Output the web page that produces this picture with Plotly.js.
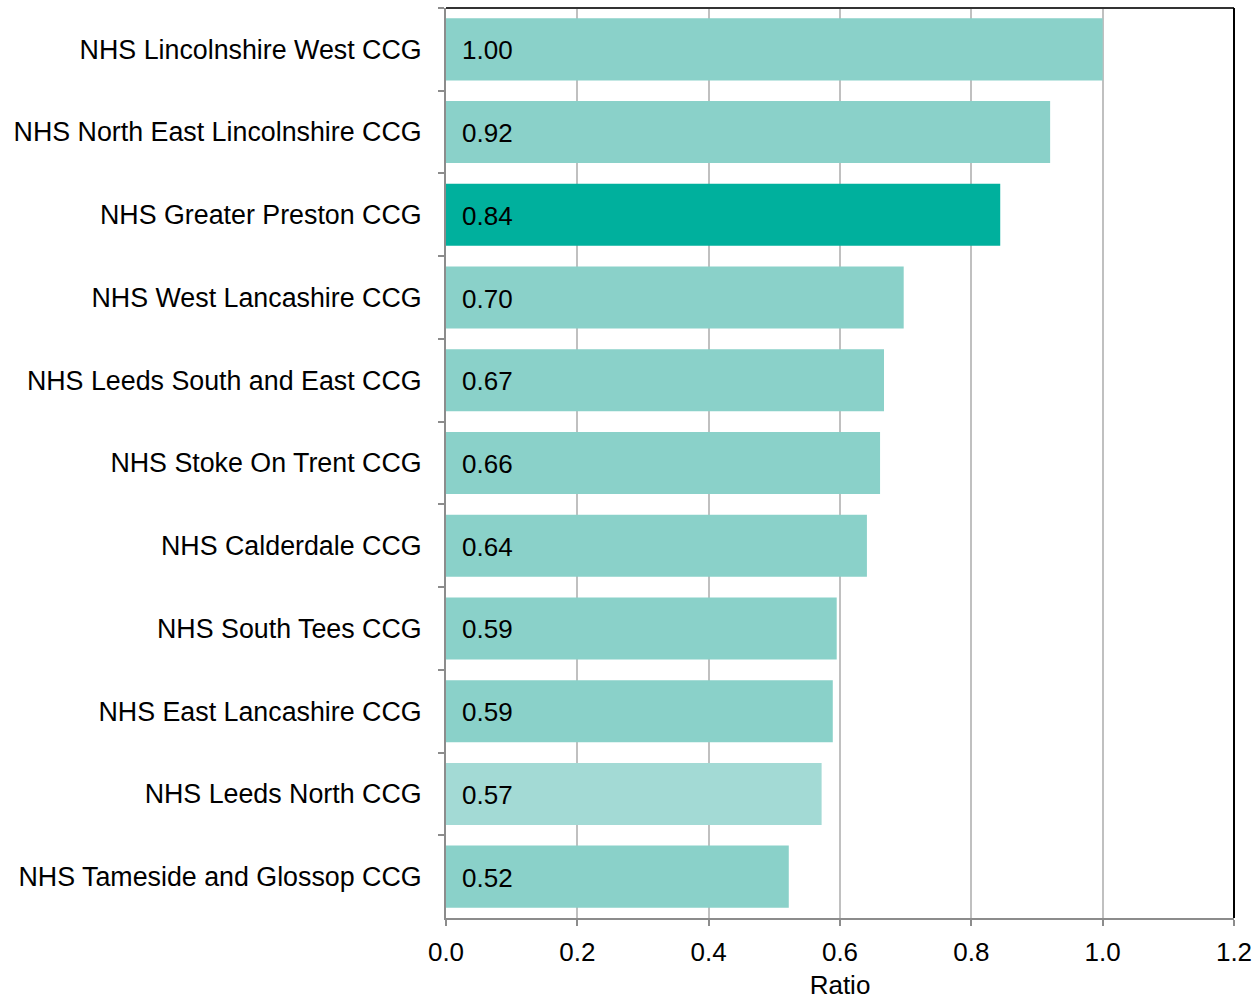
<!DOCTYPE html>
<html>
<head>
<meta charset="utf-8">
<script src="https://cdn.plot.ly/plotly-3.0.1.min.js"></script>
<style>body{margin:0;padding:0;background:#fff;}#chart{width:1256px;height:1000px;}</style>
</head>
<body>
<div id="chart"></div>
<script>
var categories = [
  "NHS Lincolnshire West CCG",
  "NHS North East Lincolnshire CCG",
  "NHS Greater Preston CCG",
  "NHS West Lancashire CCG",
  "NHS Leeds South and East CCG",
  "NHS Stoke On Trent CCG",
  "NHS Calderdale CCG",
  "NHS South Tees CCG",
  "NHS East Lancashire CCG",
  "NHS Leeds North CCG",
  "NHS Tameside and Glossop CCG"
];
var ratios = [1.00, 0.92, 0.844, 0.697, 0.667, 0.661, 0.641, 0.595, 0.589, 0.572, 0.522];
var valueLabels = ["1.00", "0.92", "0.84", "0.70", "0.67", "0.66", "0.64", "0.59", "0.59", "0.57", "0.52"];
var barColors = ["#8ad1c9", "#8ad1c9", "#00b09d", "#8ad1c9", "#8ad1c9", "#8ad1c9", "#8ad1c9", "#8ad1c9", "#8ad1c9", "#a3dad5", "#8ad1c9"];
var xTickVals = [0, 0.2, 0.4, 0.6, 0.8, 1.0, 1.2];
var xTickText = ["0.0", "0.2", "0.4", "0.6", "0.8", "1.0", "1.2"];

var font = "Liberation Sans, Arial, sans-serif";
var fs = 26;

var trace = {
  type: "bar",
  orientation: "h",
  y: categories,
  x: ratios,
  marker: {color: barColors, line: {width: 0}},
  width: 0.75,
  hoverinfo: "none"
};

var annotations = categories.map(function (c, i) {
  return {
    x: 0, y: c, xref: "x", yref: "y",
    text: valueLabels[i],
    showarrow: false,
    xanchor: "left", yanchor: "middle",
    xshift: 14, yshift: -1,
    font: {family: font, size: fs, color: "#000"}
  };
});

var layout = {
  width: 1256,
  height: 1000,
  margin: {l: 446, r: 22, t: 8, b: 82},
  paper_bgcolor: "#fff",
  plot_bgcolor: "#fff",
  showlegend: false,
  font: {family: font, size: fs, color: "#000"},
  xaxis: {
    range: [0, 1.2],
    tickvals: xTickVals,
    ticktext: xTickText,
    showgrid: true,
    gridcolor: "#c0c0c0",
    gridwidth: 2,
    zeroline: false,
    showline: true,
    linecolor: "#8c8c8c",
    linewidth: 2,
    ticks: "outside",
    ticklen: 6,
    tickcolor: "#8c8c8c",
    tickwidth: 2,
    ticklabelstandoff: 4,
    tickfont: {family: font, size: fs, color: "#000"},
    title: {text: "Ratio", font: {family: font, size: fs, color: "#000"}, standoff: 17}
  },
  yaxis: {
    type: "category",
    autorange: "reversed",
    tickson: "boundaries",
    ticks: "outside",
    ticklen: 6,
    tickcolor: "#8c8c8c",
    tickwidth: 2,
    showline: true,
    linecolor: "#8c8c8c",
    linewidth: 2,
    showgrid: false,
    zeroline: false,
    ticklabelstandoff: 17,
    tickfont: {family: font, size: 26.8, color: "#000"}
  },
  annotations: annotations,
  shapes: [
    {type: "line", xref: "paper", yref: "paper", x0: 0, x1: 1, y0: 1, y1: 1, line: {color: "#333", width: 2}},
    {type: "line", xref: "paper", yref: "paper", x0: 1, x1: 1, y0: 0, y1: 1, line: {color: "#000", width: 2}}
  ]
};

Plotly.newPlot("chart", [trace], layout, {displayModeBar: false, staticPlot: true});
</script>
</body>
</html>
